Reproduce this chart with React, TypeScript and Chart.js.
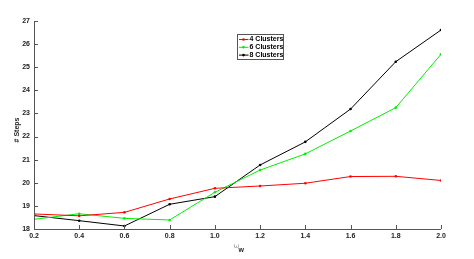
import React, { useEffect, useRef } from "react";
import { Chart, registerables } from "chart.js";

Chart.register(...registerables);

const xValues = ["0.2", "0.4", "0.6", "0.8", "1.0", "1.2", "1.4", "1.6", "1.8", "2.0"];
const xNumbers = [0.2, 0.4, 0.6, 0.8, 1.0, 1.2, 1.4, 1.6, 1.8, 2.0];
const clusters4 = [18.65, 18.57, 18.72, 19.3, 19.76, 19.86, 19.98, 20.27, 20.28, 20.1];
const clusters6 = [18.42, 18.66, 18.46, 18.39, 19.59, 20.55, 21.25, 22.24, 23.25, 25.56];
const clusters8 = [18.58, 18.36, 18.13, 19.07, 19.4, 20.77, 21.77, 23.19, 25.24, 26.61];
const seriesLabels = ["4 Clusters", "6 Clusters", "8 Clusters"];
const yTicks = [18, 19, 20, 21, 22, 23, 24, 25, 26, 27];

const FONT = "bold 7px 'Liberation Sans', Arial, sans-serif";
const AXIS = "#555555";

const decorPlugin = {
  id: "decor",
  afterDraw(chart: any) {
    const ctx = chart.ctx;
    const xs = chart.scales.x;
    const ys = chart.scales.y;
    const area = chart.chartArea;
    ctx.save();
    // axis lines
    ctx.strokeStyle = AXIS;
    ctx.lineWidth = 1;
    ctx.beginPath();
    ctx.moveTo(area.left + 0.5, area.top);
    ctx.lineTo(area.left + 0.5, area.bottom + 0.5);
    ctx.lineTo(area.right, area.bottom + 0.5);
    ctx.stroke();
    // inward ticks
    ctx.beginPath();
    xNumbers.forEach((v) => {
      const px = Math.round(xs.getPixelForValue(v)) + 0.5;
      ctx.moveTo(px, area.bottom);
      ctx.lineTo(px, area.bottom - 4);
    });
    yTicks.forEach((v) => {
      const py = Math.round(ys.getPixelForValue(v)) + 0.5;
      ctx.moveTo(area.left, py);
      ctx.lineTo(area.left + 4, py);
    });
    ctx.stroke();
    // tick labels
    ctx.fillStyle = "#222";
    ctx.font = FONT;
    ctx.textAlign = "center";
    ctx.textBaseline = "middle";
    xNumbers.forEach((v, i) => {
      ctx.fillText(xValues[i], xs.getPixelForValue(v), area.bottom + 7);
    });
    ctx.textAlign = "right";
    yTicks.forEach((v) => {
      ctx.fillText(String(v), area.left - 4, ys.getPixelForValue(v));
    });
    // x title: omega with subscript w
    const cx = (area.left + area.right) / 2;
    ctx.textAlign = "left";
    ctx.fillStyle = "#999";
    ctx.font = "7px 'DejaVu Sans', sans-serif";
    ctx.fillText("ω", cx - 4, area.bottom + 17);
    ctx.fillStyle = "#222";
    ctx.font = FONT;
    ctx.fillText("w", cx + 1, area.bottom + 21);
    // y title
    ctx.save();
    ctx.translate(17, 130);
    ctx.rotate(-Math.PI / 2);
    ctx.textAlign = "center";
    ctx.fillStyle = "#222";
    ctx.font = FONT;
    ctx.fillText("# Steps", 0, 0);
    ctx.restore();
    // legend
    const lx = 237.5, ly = 34.5, lw = 46, lh = 25;
    ctx.fillStyle = "#fff";
    ctx.fillRect(lx, ly, lw, lh);
    ctx.strokeStyle = "#555";
    ctx.strokeRect(lx, ly, lw, lh);
    chart.data.datasets.forEach((ds: any, i: number) => {
      const y = ly + 5 + i * 7.8;
      ctx.strokeStyle = ds.borderColor;
      ctx.beginPath();
      ctx.moveTo(lx + 1.5, y);
      ctx.lineTo(lx + 11, y);
      ctx.stroke();
      ctx.fillStyle = ds.borderColor;
      ctx.beginPath();
      ctx.arc(lx + 6, y, 1.3, 0, Math.PI * 2);
      ctx.fill();
      ctx.fillStyle = "#000";
      ctx.font = FONT;
      ctx.textAlign = "left";
      ctx.fillText(ds.label, lx + 12, y);
    });
    ctx.restore();
  },
};

export default function App() {
  const ref = useRef<HTMLCanvasElement>(null);
  useEffect(() => {
    if (!ref.current) return;
    const mk = (vals: number[]) => vals.map((v, i) => ({ x: xNumbers[i], y: v }));
    const chart = new Chart(ref.current, {
      type: "line",
      data: {
        datasets: [
          { label: seriesLabels[0], data: mk(clusters4), borderColor: "#ff0000", backgroundColor: "#ff0000" },
          { label: seriesLabels[1], data: mk(clusters6), borderColor: "#00ee00", backgroundColor: "#00ee00" },
          { label: seriesLabels[2], data: mk(clusters8), borderColor: "#000000", backgroundColor: "#000000" },
        ].map((d) => ({ ...d, borderWidth: 1, pointRadius: 1.3, pointBorderWidth: 0, tension: 0 })),
      },
      options: {
        animation: false,
        responsive: false,
        devicePixelRatio: 1,
        layout: { padding: { top: 21, right: 33, left: 0, bottom: 0 } },
        plugins: { legend: { display: false }, tooltip: { enabled: false } },
        scales: {
          x: {
            type: "linear",
            min: 0.2,
            max: 2.0,
            grid: { display: false },
            border: { display: false },
            ticks: { display: false },
            afterFit: (s: any) => { s.height = 30; },
          },
          y: {
            min: 18,
            max: 27,
            grid: { display: false },
            border: { display: false },
            ticks: { display: false },
            afterFit: (s: any) => { s.width = 34; },
          },
        },
      },
      plugins: [decorPlugin],
    } as any);
    return () => chart.destroy();
  }, []);
  return (
    <div style={{ position: "fixed", left: 0, top: 0, width: 474, height: 259, background: "#fff" }}>
      <canvas ref={ref} width={474} height={259} style={{ width: 474, height: 259 }} />
    </div>
  );
}
